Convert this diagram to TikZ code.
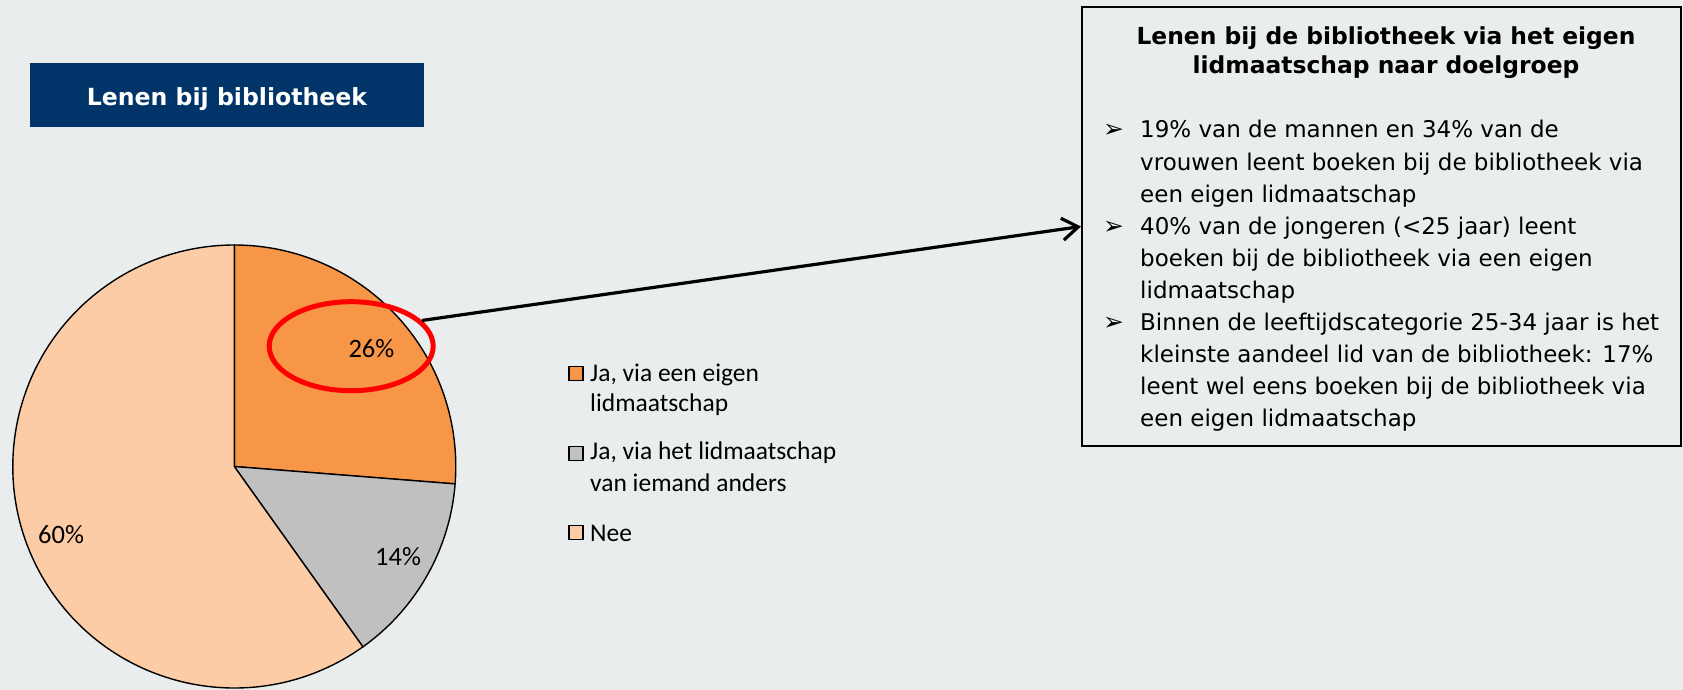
\documentclass[tikz,border=0pt]{standalone}
\usepackage{fontspec}
\setmainfont{DejaVu Sans}
\newfontfamily\tahfont{DejaVu Sans}
\newfontfamily\carfont{Carlito}
\usetikzlibrary{shapes.geometric,arrows.meta}
\definecolor{bg}{RGB}{233,237,238}
\definecolor{navy}{RGB}{1,53,105}
\definecolor{sliceA}{RGB}{247,150,70}
\definecolor{sliceB}{RGB}{192,192,192}
\definecolor{sliceC}{RGB}{252,204,166}
\tikzset{
  slice/.style={draw=black,line width=1.4pt},
  pielabel/.style={anchor=base west,inner sep=0pt,font=\carfont\fontsize{26.5}{30}\selectfont},
  legtext/.style={anchor=base west,inner sep=0pt,font=\carfont\fontsize{25.5}{30}\selectfont},
  legbox/.style={draw=black,line width=1.2pt,minimum size=14pt,inner sep=0pt,anchor=north west},
  bodyline/.style={anchor=base west,inner sep=0pt,font=\tahfont\fontsize{23}{32}\selectfont},
  headline/.style={anchor=base,inner sep=0pt,font=\tahfont\bfseries\fontsize{23.4}{29}\selectfont},
  bulletmark/.style={anchor=base west,inner sep=0pt,font=\tahfont\fontsize{25}{26}\selectfont},
}
\begin{document}
\begin{tikzpicture}[x=1pt,y=-1pt]
\useasboundingbox (0,0) rectangle (1683,690);
\fill[bg] (0,0) rectangle (1683,690);
% title box
\node[fill=navy,minimum width=394pt,minimum height=64pt,inner sep=0pt,anchor=north west] (tbox) at (30,63) {};
\node[anchor=base,inner sep=0pt,text=white,font=\tahfont\bfseries\fontsize{23.6}{28}\selectfont] (ttext) at (227,106) {Lenen bij bibliotheek};
% pie
\begin{scope}[shift={(234.3,466.5)},y=1pt]
  \filldraw[slice,fill=sliceA] (0,0) -- (90:221.5) arc[start angle=90,end angle=-4.5,radius=221.5] -- cycle;
  \filldraw[slice,fill=sliceB] (0,0) -- (-4.5:221.5) arc[start angle=-4.5,end angle=-54.5,radius=221.5] -- cycle;
  \filldraw[slice,fill=sliceC] (0,0) -- (-54.5:221.5) arc[start angle=-54.5,end angle=-270,radius=221.5] -- cycle;
\end{scope}
\node[pielabel] (p26) at (348.3,357.3) {26\%};
\node[pielabel] (p14) at (375,565) {14\%};
\node[pielabel] (p60) at (38,543.6) {60\%};
% legend
\node[legbox,fill=sliceA] (k1) at (568.3,365.5) {};
\node[legtext] (t1a) at (590,381.7) {Ja, via een eigen};
\node[legtext] (t1b) at (590,411.7) {lidmaatschap};
\node[legbox,fill=sliceB] (k2) at (568.3,445.5) {};
\node[legtext] (t2a) at (590,459.3) {Ja, via het lidmaatschap};
\node[legtext] (t2b) at (590,491.7) {van iemand anders};
\node[legbox,fill=sliceC] (k3) at (568.3,524.8) {};
\node[legtext] (t3a) at (590,541) {Nee};
% highlight ellipse
\node[ellipse,draw=red,line width=5pt,minimum width=164pt,minimum height=89pt,inner sep=0pt] (ell) at (351.2,346.2) {};
% text box
\node[draw=black,line width=2pt,minimum width=599pt,minimum height=439pt,inner sep=0pt] (box) at (1381.5,226.5) {};
\node[headline] (h1) at (1386,44.3) {Lenen bij de bibliotheek via het eigen};
\node[headline] (h2) at (1386,73.3) {lidmaatschap naar doelgroep};
\node[bulletmark] (b1) at (1103,138) {➢};
\node[bulletmark] (b2) at (1103,234) {➢};
\node[bulletmark] (b3) at (1103,330) {➢};
\node[bodyline] (l1) at (1140,138) {19\% van de mannen en 34\% van de};
\node[bodyline] (l2) at (1140,170) {vrouwen leent boeken bij de bibliotheek via};
\node[bodyline] (l3) at (1140,202) {een eigen lidmaatschap};
\node[bodyline] (l4) at (1140,234) {40\% van de jongeren (<25 jaar) leent};
\node[bodyline] (l5) at (1140,266) {boeken bij de bibliotheek via een eigen};
\node[bodyline] (l6) at (1140,298) {lidmaatschap};
\node[bodyline] (l7) at (1140,330) {Binnen de leeftijdscategorie 25-34 jaar is het};
\node[bodyline] (l8) at (1140,362) {kleinste aandeel lid van de bibliotheek: 17\%};
\node[bodyline] (l9) at (1140,394) {leent wel eens boeken bij de bibliotheek via};
\node[bodyline] (l10) at (1140,426) {een eigen lidmaatschap};
% connector
\draw[line width=3.2pt,-{Straight Barb[length=16pt,width=22pt]}] (ell.20) -- (box.west);
\end{tikzpicture}
\end{document}
